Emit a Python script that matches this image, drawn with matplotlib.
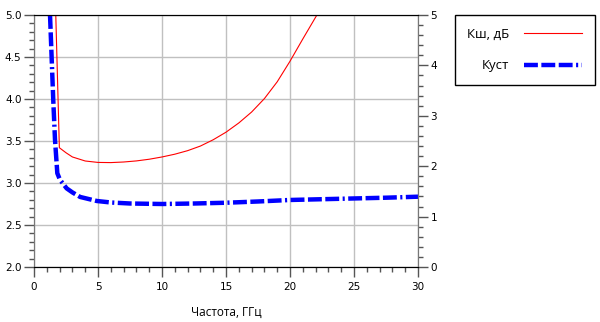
import numpy as np
import matplotlib
matplotlib.use("Agg")
import matplotlib.pyplot as plt
from matplotlib.ticker import MultipleLocator

# noise figure, dB (left axis)
f_nf = [1.70, 1.98, 2.5, 3, 4, 5, 6, 7, 8, 9, 10, 11, 12, 13, 14, 15, 16, 17, 18, 19, 20, 21, 22.1]
nf = [5.0, 3.42, 3.36, 3.31, 3.262, 3.245, 3.243, 3.25, 3.263, 3.283, 3.31, 3.343, 3.385, 3.44,
      3.515, 3.605, 3.715, 3.845, 4.005, 4.205, 4.45, 4.715, 5.0]

# stability factor (right axis)
f_k = [1.25, 1.5, 1.64, 1.82, 2.03, 2.55, 3, 3.6, 4.9, 6, 7.5, 10, 12.5, 15, 17.5, 20, 22.5, 25, 27.5, 30]
k = [5.0, 3.33, 2.52, 1.86, 1.73, 1.56, 1.48, 1.39, 1.31, 1.28, 1.26, 1.25, 1.26, 1.275, 1.30,
     1.33, 1.345, 1.36, 1.375, 1.395]

plt.rcParams['lines.scale_dashes'] = False

fig = plt.figure(figsize=(6, 3.22), dpi=100)
ax = fig.add_axes([0.0567, 0.1708, 0.64, 0.7826])
ax2 = ax.twinx()

l1, = ax.plot(f_nf, nf, color="red", lw=0.8, label="Кш, дБ")
l2, = ax2.plot(f_k, k, color="#0000ff", lw=3.2, label="Куст",
               dashes=(10, 2.5, 10, 2.5, 10, 2.5, 1.5, 2.5))

ax.set_xlim(0, 30)
ax.set_ylim(2.0, 5.0)
ax2.set_ylim(0, 5)

ax.xaxis.set_major_locator(MultipleLocator(5))
ax.xaxis.set_minor_locator(MultipleLocator(1))
ax.yaxis.set_major_locator(MultipleLocator(0.5))
ax.yaxis.set_minor_locator(MultipleLocator(0.1))
ax2.yaxis.set_major_locator(MultipleLocator(1))
ax2.yaxis.set_minor_locator(MultipleLocator(0.2))
ax.yaxis.set_major_formatter(plt.FormatStrFormatter("%.1f"))

ax.grid(True, which="major", color="#c0c0c0", lw=1)
ax.set_axisbelow(True)

for a in (ax, ax2):
    a.tick_params(which="major", length=7, width=1, direction="out", labelsize=7.5, pad=2, color="#555555")
    a.tick_params(which="minor", length=3.5, width=1, direction="out", color="#555555")
    a.spines["left"].set_color("#777777")
    a.spines["right"].set_color("#777777")
    a.spines["top"].set_color("black")
    a.spines["bottom"].set_color("black")
ax.tick_params(axis="x", pad=4)

ax.set_xlabel("Частота, ГГц", family="Open Sans", fontsize=8.5, labelpad=10)

fig.legend(handles=[l1, l2], loc="upper left", bbox_to_anchor=(0.758, 0.953),
           markerfirst=False, fancybox=False, edgecolor="black", framealpha=1,
           prop={"family": "Open Sans", "size": 9.5}, handlelength=4.4,
           handletextpad=1.1, borderpad=0.95, labelspacing=1.4, borderaxespad=0)

fig.savefig("out.png", dpi=100)
